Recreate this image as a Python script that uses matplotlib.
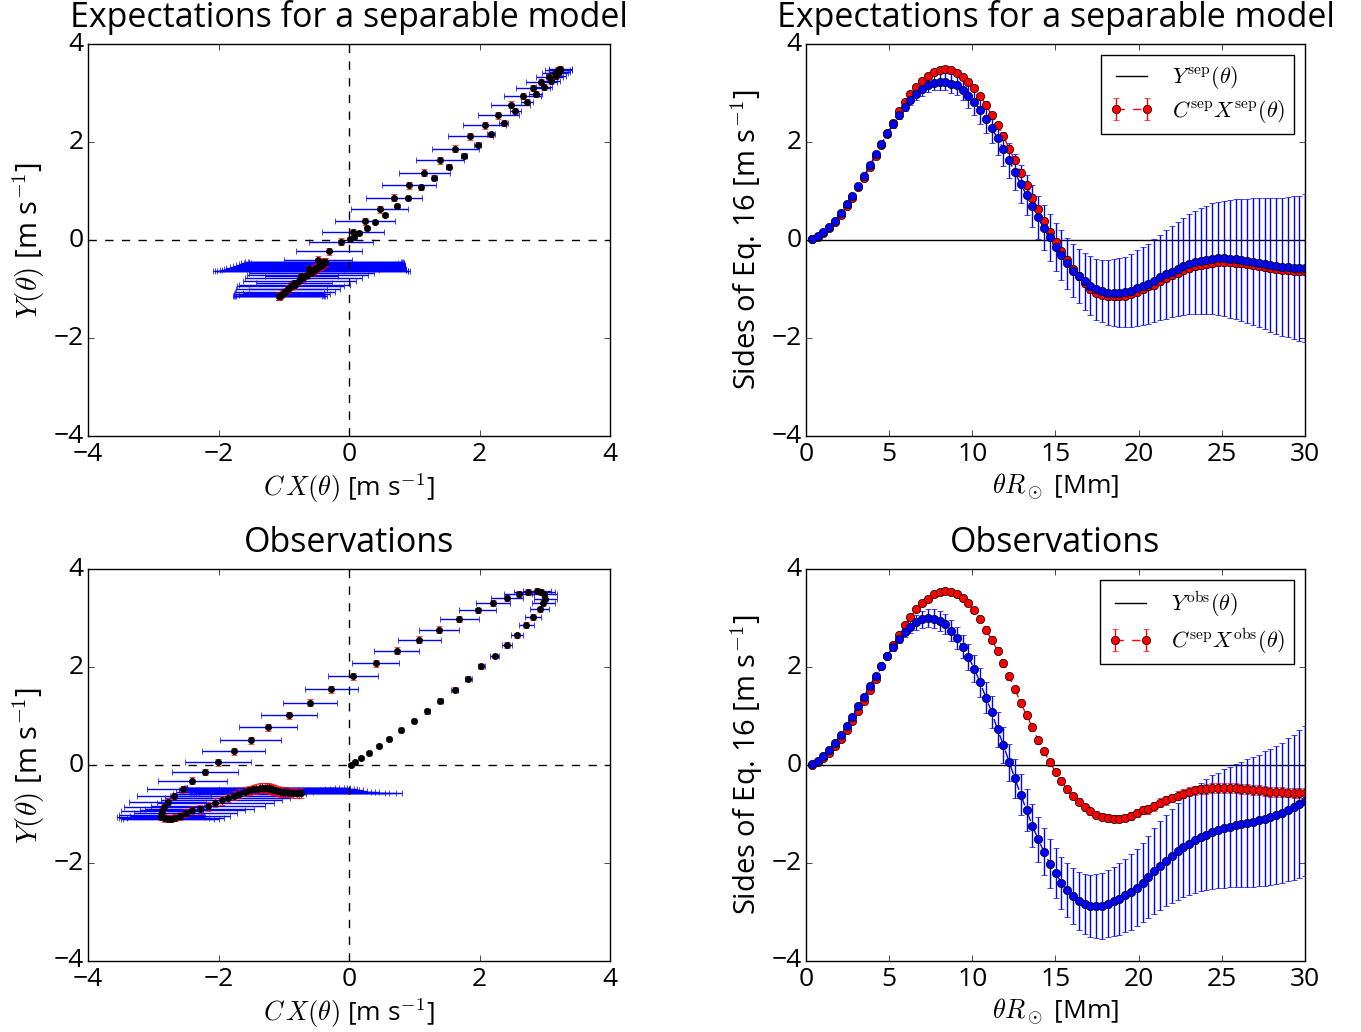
import numpy as np
import matplotlib
matplotlib.use("Agg")
import matplotlib.pyplot as plt

plt.style.use("classic")
plt.rcParams["mathtext.fontset"] = "cm"
plt.rcParams["font.family"] = ["Open Sans", "DejaVu Sans"]

# angular distance grid (theta * R_sun, in Mm)
theta = [0.35, 0.70, 1.05, 1.40, 1.75, 2.09, 2.44, 2.79, 3.14, 3.49,
         3.84, 4.19, 4.54, 4.89, 5.24, 5.58, 5.93, 6.28, 6.63, 6.98,
         7.33, 7.68, 8.03, 8.38, 8.73, 9.07, 9.42, 9.77, 10.12, 10.47,
         10.82, 11.17, 11.52, 11.87, 12.22, 12.56, 12.91, 13.26, 13.61, 13.96,
         14.31, 14.66, 15.01, 15.36, 15.71, 16.05, 16.40, 16.75, 17.10, 17.45,
         17.80, 18.15, 18.50, 18.85, 19.20, 19.54, 19.89, 20.24, 20.59, 20.94,
         21.29, 21.64, 21.99, 22.34, 22.69, 23.03, 23.38, 23.73, 24.08, 24.43,
         24.78, 25.13, 25.48, 25.83, 26.18, 26.52, 26.87, 27.22, 27.57, 27.92,
         28.27, 28.62, 28.97, 29.32, 29.67, 30.02]

# separable model: Y^sep and C^sep X^sep with their errors
y_sep = [0.02, 0.08, 0.16, 0.27, 0.40, 0.55, 0.73, 0.90, 1.11, 1.31,
         1.53, 1.76, 1.97, 2.18, 2.37, 2.55, 2.73, 2.86, 2.99, 3.09,
         3.17, 3.22, 3.24, 3.24, 3.20, 3.16, 3.07, 2.95, 2.82, 2.66,
         2.48, 2.29, 2.08, 1.86, 1.63, 1.39, 1.15, 0.92, 0.69, 0.47,
         0.25, 0.06, -0.13, -0.31, -0.47, -0.62, -0.73, -0.84, -0.93, -1.00,
         -1.04, -1.07, -1.07, -1.07, -1.06, -1.03, -0.98, -0.94, -0.89, -0.83,
         -0.76, -0.70, -0.64, -0.58, -0.53, -0.49, -0.45, -0.42, -0.40, -0.38,
         -0.37, -0.37, -0.38, -0.38, -0.40, -0.42, -0.44, -0.46, -0.48, -0.51,
         -0.52, -0.54, -0.55, -0.56, -0.57, -0.57]
cx_sep = [0.02, 0.07, 0.14, 0.24, 0.37, 0.52, 0.70, 0.87, 1.08, 1.28,
          1.50, 1.73, 1.95, 2.16, 2.40, 2.64, 2.83, 2.98, 3.13, 3.26,
          3.36, 3.43, 3.48, 3.49, 3.48, 3.42, 3.34, 3.23, 3.10, 2.94,
          2.77, 2.55, 2.35, 2.12, 1.87, 1.63, 1.38, 1.12, 0.87, 0.63,
          0.39, 0.16, -0.03, -0.23, -0.40, -0.59, -0.74, -0.88, -1.00, -1.08,
          -1.12, -1.15, -1.15, -1.15, -1.13, -1.09, -1.05, -1.00, -0.94, -0.91,
          -0.84, -0.78, -0.72, -0.66, -0.61, -0.57, -0.53, -0.50, -0.48, -0.46,
          -0.45, -0.45, -0.45, -0.46, -0.47, -0.49, -0.51, -0.53, -0.55, -0.57,
          -0.59, -0.60, -0.61, -0.62, -0.63, -0.63]
err_y_sep = [0.01, 0.01, 0.01, 0.02, 0.02, 0.02, 0.03, 0.03, 0.03, 0.04,
             0.04, 0.05, 0.05, 0.06, 0.07, 0.08, 0.09, 0.10, 0.12, 0.14,
             0.15, 0.16, 0.17, 0.18, 0.19, 0.20, 0.21, 0.24, 0.26, 0.28,
             0.30, 0.31, 0.33, 0.34, 0.36, 0.37, 0.39, 0.41, 0.43, 0.44,
             0.46, 0.48, 0.49, 0.51, 0.52, 0.54, 0.56, 0.58, 0.60, 0.62,
             0.64, 0.66, 0.68, 0.70, 0.72, 0.74, 0.77, 0.80, 0.82, 0.85,
             0.87, 0.90, 0.93, 0.96, 0.99, 1.02, 1.05, 1.08, 1.10, 1.13,
             1.16, 1.18, 1.21, 1.23, 1.25, 1.27, 1.30, 1.32, 1.34, 1.37,
             1.39, 1.41, 1.43, 1.46, 1.48, 1.51]
err_cx_sep = [0.04, 0.04, 0.04, 0.04, 0.04, 0.04, 0.04, 0.04, 0.05, 0.05,
              0.05, 0.05, 0.05, 0.05, 0.06, 0.06, 0.06, 0.06, 0.06, 0.06,
              0.06, 0.06, 0.06, 0.06, 0.06, 0.06, 0.06, 0.06, 0.06, 0.06,
              0.07, 0.07, 0.07, 0.07, 0.07, 0.07, 0.07, 0.07, 0.07, 0.07,
              0.07, 0.07, 0.07, 0.07, 0.07, 0.07, 0.07, 0.07, 0.07, 0.07,
              0.07, 0.07, 0.07, 0.07, 0.07, 0.07, 0.07, 0.08, 0.08, 0.08,
              0.08, 0.08, 0.08, 0.08, 0.08, 0.08, 0.08, 0.08, 0.08, 0.08,
              0.08, 0.08, 0.08, 0.08, 0.08, 0.08, 0.08, 0.08, 0.08, 0.08,
              0.08, 0.08, 0.08, 0.08, 0.08, 0.08]

# observations: Y^obs and C^sep X^obs with their errors
y_obs = [0.03, 0.09, 0.18, 0.31, 0.46, 0.62, 0.80, 0.99, 1.20, 1.40,
         1.62, 1.83, 2.03, 2.23, 2.42, 2.58, 2.72, 2.82, 2.92, 2.98,
         3.01, 2.99, 2.95, 2.88, 2.75, 2.60, 2.42, 2.21, 1.97, 1.69,
         1.38, 1.08, 0.73, 0.41, 0.06, -0.27, -0.60, -0.92, -1.24, -1.51,
         -1.77, -2.01, -2.21, -2.40, -2.55, -2.68, -2.78, -2.84, -2.87, -2.88,
         -2.88, -2.83, -2.78, -2.73, -2.66, -2.59, -2.50, -2.40, -2.29, -2.16,
         -2.05, -1.95, -1.86, -1.76, -1.68, -1.60, -1.53, -1.47, -1.42, -1.37,
         -1.33, -1.29, -1.26, -1.23, -1.21, -1.18, -1.16, -1.13, -1.09, -1.05,
         -1.01, -0.97, -0.91, -0.86, -0.79, -0.73]
cx_obs = [0.01, 0.07, 0.14, 0.25, 0.39, 0.54, 0.72, 0.90, 1.10, 1.32,
          1.54, 1.77, 2.02, 2.23, 2.45, 2.65, 2.86, 3.03, 3.18, 3.31,
          3.40, 3.49, 3.53, 3.55, 3.54, 3.49, 3.42, 3.31, 3.16, 2.98,
          2.77, 2.56, 2.34, 2.08, 1.82, 1.55, 1.28, 1.02, 0.77, 0.51,
          0.28, 0.06, -0.14, -0.32, -0.49, -0.63, -0.75, -0.86, -0.94, -1.01,
          -1.05, -1.08, -1.09, -1.09, -1.07, -1.03, -0.98, -0.92, -0.90, -0.84,
          -0.77, -0.72, -0.67, -0.62, -0.58, -0.54, -0.51, -0.49, -0.48, -0.47,
          -0.47, -0.47, -0.47, -0.47, -0.48, -0.49, -0.50, -0.51, -0.53, -0.54,
          -0.55, -0.55, -0.56, -0.57, -0.57, -0.57]
err_y_obs = [0.01, 0.01, 0.01, 0.02, 0.02, 0.02, 0.03, 0.03, 0.04, 0.04,
             0.05, 0.05, 0.06, 0.07, 0.08, 0.09, 0.11, 0.13, 0.15, 0.17,
             0.18, 0.19, 0.20, 0.21, 0.22, 0.23, 0.24, 0.26, 0.28, 0.30,
             0.31, 0.33, 0.35, 0.36, 0.38, 0.40, 0.41, 0.43, 0.44, 0.46,
             0.48, 0.50, 0.51, 0.53, 0.55, 0.57, 0.59, 0.61, 0.63, 0.65,
             0.67, 0.69, 0.71, 0.73, 0.75, 0.77, 0.79, 0.81, 0.84, 0.87,
             0.90, 0.93, 0.96, 0.99, 1.02, 1.05, 1.08, 1.10, 1.13, 1.16,
             1.18, 1.21, 1.23, 1.25, 1.28, 1.30, 1.32, 1.34, 1.37, 1.39,
             1.41, 1.43, 1.46, 1.48, 1.51, 1.54]
err_cx_obs = [0.04, 0.04, 0.04, 0.04, 0.04, 0.04, 0.04, 0.04, 0.05, 0.05,
              0.05, 0.05, 0.05, 0.05, 0.06, 0.06, 0.06, 0.06, 0.06, 0.06,
              0.06, 0.06, 0.06, 0.06, 0.06, 0.06, 0.06, 0.06, 0.06, 0.06,
              0.07, 0.07, 0.07, 0.07, 0.07, 0.07, 0.07, 0.07, 0.07, 0.07,
              0.07, 0.07, 0.07, 0.07, 0.07, 0.07, 0.07, 0.07, 0.07, 0.07,
              0.08, 0.08, 0.08, 0.08, 0.08, 0.08, 0.08, 0.08, 0.09, 0.09,
              0.09, 0.09, 0.09, 0.09, 0.09, 0.09, 0.09, 0.09, 0.10, 0.10,
              0.10, 0.10, 0.10, 0.10, 0.10, 0.10, 0.10, 0.10, 0.10, 0.10,
              0.10, 0.10, 0.10, 0.10, 0.10, 0.10]

titles = ["Expectations for a separable model", "Observations"]
rows = [(y_sep, cx_sep, err_y_sep, err_cx_sep, "sep"),
        (y_obs, cx_obs, err_y_obs, err_cx_obs, "obs")]

fig = plt.figure(figsize=(13.61, 10.32), dpi=100, facecolor="white")
bottoms = [0.5775, 0.0688]
title_fs, xlabel_fs, ylabel_fs, tick_fs = 24.5, 19, 21, 19


def style_axes(ax, xticks, xlabel, ylabel, title):
    ax.set_ylim(-4, 4)
    ax.set_xticks(xticks)
    ax.set_yticks([-4, -2, 0, 2, 4])
    ax.tick_params(axis="x", labelsize=tick_fs, pad=4.5)
    ax.tick_params(axis="y", labelsize=tick_fs, pad=3)
    ax.set_xlabel(xlabel, fontsize=xlabel_fs, labelpad=3)
    ax.set_ylabel(ylabel, fontsize=ylabel_fs)
    ax.set_title(title, fontsize=title_fs, pad=12.5)


for (yv, cxv, ey, ecx, tag), title, bot in zip(rows, titles, bottoms):
    # scatter of Y against C X
    ax = fig.add_axes([0.0647, bot, 0.3835, 0.3795])
    ax.errorbar(yv, cxv, xerr=ey, fmt="none", ecolor="b", capsize=2.5, elinewidth=1)
    ax.errorbar(yv, cxv, yerr=ecx, fmt="none", ecolor="r", capsize=2.5, elinewidth=1)
    ax.plot(yv, cxv, "ko", ms=4.5, mec="k")
    ax.axhline(0, color="k", ls="--", lw=1)
    ax.axvline(0, color="k", ls="--", lw=1)
    ax.set_xlim(-4, 4)
    style_axes(ax, [-4, -2, 0, 2, 4], r"$C\,X(\theta)$ [m s$^{-1}$]",
               r"$Y(\theta)$ [m s$^{-1}$]", title)

    # both sides of Eq. 16 against distance
    ax2 = fig.add_axes([0.5922, bot, 0.3666, 0.3795])
    ax2.axhline(0, color="k", lw=1, label=r"$Y^{\rm %s}(\theta)$" % tag)
    ax2.errorbar(theta, cxv, yerr=ecx, fmt="o--", color="r", mfc="r", mec="k",
                 ms=6, capsize=2.5, ecolor="r",
                 label=r"$C^{\rm sep}X^{\rm %s}(\theta)$" % tag)
    ax2.errorbar(theta, yv, yerr=ey, fmt="o--", color="b", mfc="b", mec="k",
                 ms=6, capsize=2.5, ecolor="b")
    ax2.set_xlim(0, 30)
    style_axes(ax2, [0, 5, 10, 15, 20, 25, 30], r"$\theta R_\odot$ [Mm]",
               "Sides of Eq. 16 [m s$^{-1}$]", title)
    ax2.legend(loc="upper right", fontsize=16, numpoints=2, labelspacing=0.3)

fig.savefig("out.png", dpi=100, facecolor="white")
